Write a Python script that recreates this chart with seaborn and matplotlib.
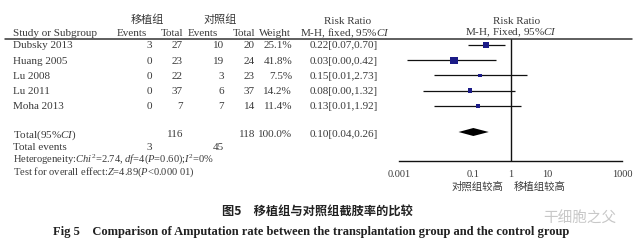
import numpy as np
import pandas as pd
import matplotlib
matplotlib.use("Agg")
import matplotlib.pyplot as plt
from matplotlib.lines import Line2D
import seaborn as sns

# ---------------- data ----------------
studies = ["Dubsky 2013", "Huang 2005", "Lu 2008", "Lu 2011", "Moha 2013"]
exp_events = [3, 0, 0, 0, 0]
exp_total = [27, 23, 22, 37, 7]
ctl_events = [10, 19, 3, 6, 7]
ctl_total = [20, 24, 23, 37, 14]
weights = [25.1, 41.8, 7.5, 14.2, 11.4]
rr = [0.22, 0.03, 0.15, 0.08, 0.13]
ci_low = [0.07, 0.0016, 0.0085, 0.0045, 0.0085]
ci_high = [0.70, 0.42, 2.73, 1.32, 1.92]
rr_labels = ["0.22[0.07,0.70]", "0.03[0.00,0.42]", "0.15[0.01,2.73]",
             "0.08[0.00,1.32]", "0.13[0.01,1.92]"]
total_rr, total_low, total_high = 0.10, 0.04, 0.26
total_label = "0.10[0.04,0.26]"
total_exp, total_ctl = 116, 118
events_exp, events_ctl = 3, 45
ticks = [0.001, 0.1, 1, 10, 1000]
tick_labels = ["0.001", "0.1", "1", "10", "1000"]

# ---------------- style ----------------
sns.set_theme(style="white")
plt.rcParams["font.family"] = ["Liberation Serif", "Noto Sans CJK SC", "DejaVu Sans"]
plt.rcParams["mathtext.fontset"] = "custom"
plt.rcParams["mathtext.rm"] = "Liberation Serif"
plt.rcParams["mathtext.it"] = "Liberation Serif:italic"

W, H = 640, 251
fig = plt.figure(figsize=(W / 100, H / 100), dpi=100)
fig.patch.set_facecolor("white")


def fx(x):
    return x / W


def fy(y):
    return 1 - y / H


SER = ["Liberation Serif", "Noto Sans CJK SC", "DejaVu Sans"]
TXT = "#3a3a3a"
FS = 8.0


def T(x, y, s, ha="left", fs=FS, color=TXT, family=SER, **kw):
    fig.text(fx(x), fy(y), s, ha=ha, va="center", fontsize=fs,
             color=color, family=family, **kw)


# ---------------- forest axes ----------------
ax = fig.add_axes([399 / W, 1 - 162 / H, 223 / W, (162 - 40) / H])
ax.set_xscale("log")
ax.set_xlim(0.001, 1000)
ax.set_ylim(162, 40)
ax.set_facecolor("none")

row_y = [46 + 15.2 * i for i in range(len(studies))]
df = pd.DataFrame({"study": studies, "rr": rr, "lo": ci_low, "hi": ci_high,
                   "weight": weights, "y": row_y})

ax.hlines(df["y"], df["lo"], df["hi"], color="#111111", lw=0.9, zorder=2)
sns.scatterplot(data=df, x="rr", y="y", size="weight", sizes=(6, 28),
                marker="s", color="#1b1b87", edgecolor="none", linewidth=0,
                legend=False, ax=ax, zorder=3)
ax.axvline(1, color="#111111", lw=1.0, zorder=1)
ax.fill([total_low, total_rr, total_high, total_rr],
        [133, 129, 133, 137], color="black", zorder=3, lw=0)

for side in ["top", "left", "right"]:
    ax.spines[side].set_visible(False)
ax.spines["bottom"].set_color("#111111")
ax.spines["bottom"].set_linewidth(1.0)
ax.set_xticks(ticks)
ax.set_xticklabels(tick_labels)
ax.minorticks_off()
ax.tick_params(axis="x", direction="inout", length=8, width=1.0,
               color="#111111", pad=2, labelsize=7.5, labelcolor=TXT)
ax.set_yticks([])
ax.set_xlabel("")
ax.set_ylabel("")
ax.grid(False)

# ---------------- header ----------------
fig.add_artist(Line2D([fx(5), fx(632)], [fy(40), fy(40)], color="#333333", lw=1.1))
T(147, 20, "移植组", ha="center")
T(220, 20, "对照组", ha="center")
T(348, 21, "Risk Ratio", ha="center")
T(517, 21, "Risk Ratio", ha="center")
T(13, 33, "Study or Subgroup")
T(147, 33, "Events", ha="right")
T(183, 33, "Total", ha="right")
T(218, 33, "Events", ha="right")
T(255, 33, "Total", ha="right")
T(291, 33, "Weight", ha="right")
T(300, 33, r"M-H, fixed, 95%$CI$")
T(511, 33, r"M-H, Fixed, 95%$CI$", ha="center")

# ---------------- rows ----------------
for i, y in enumerate(row_y):
    T(13, y, studies[i])
    T(152, y, str(exp_events[i]), ha="right")
    T(183, y, str(exp_total[i]), ha="right")
    T(224, y, str(ctl_events[i]), ha="right")
    T(255, y, str(ctl_total[i]), ha="right")
    T(292, y, f"{weights[i]:.1f}%", ha="right")
    T(310, y, rr_labels[i])

T(13, 135, r"Total(95%$CI$)")
T(183, 135, str(total_exp), ha="right")
T(255, 135, str(total_ctl), ha="right")
T(292, 135, "100.0%", ha="right")
T(310, 135, total_label)
T(13, 147.5, "Total events")
T(152, 147.5, str(events_exp), ha="right")
T(224, 147.5, str(events_ctl), ha="right")
T(13, 159.5, r"Heterogeneity:$Chi^2$=2.74, $df$=4($P$=0.60);$I^2$=0%", fs=7.6)
T(13, 172.5, r"Test for overall effect:$Z$=4.89($P$<0.000 01)", fs=7.6)

T(477, 187, "对照组较高", ha="center", fs=7.5)
T(540, 187, "移植组较高", ha="center", fs=7.5)

# ---------------- captions ----------------
T(317, 212, "图5　移植组与对照组截肢率的比较", ha="center", fs=8.8,
  color="#222222", family=["Noto Sans CJK SC", "DejaVu Sans"], weight="bold")
T(53, 232, "Fig 5    Comparison of Amputation rate between the transplantation group and the control group",
  fs=9.0, color="#222222", family=["Liberation Serif"], weight="bold")
T(580, 219, "干细胞之父", ha="center", fs=10.5, color="#c8c8c8",
  family=["Noto Sans CJK SC", "DejaVu Sans"])

fig.savefig("out.png", dpi=100, facecolor="white")
